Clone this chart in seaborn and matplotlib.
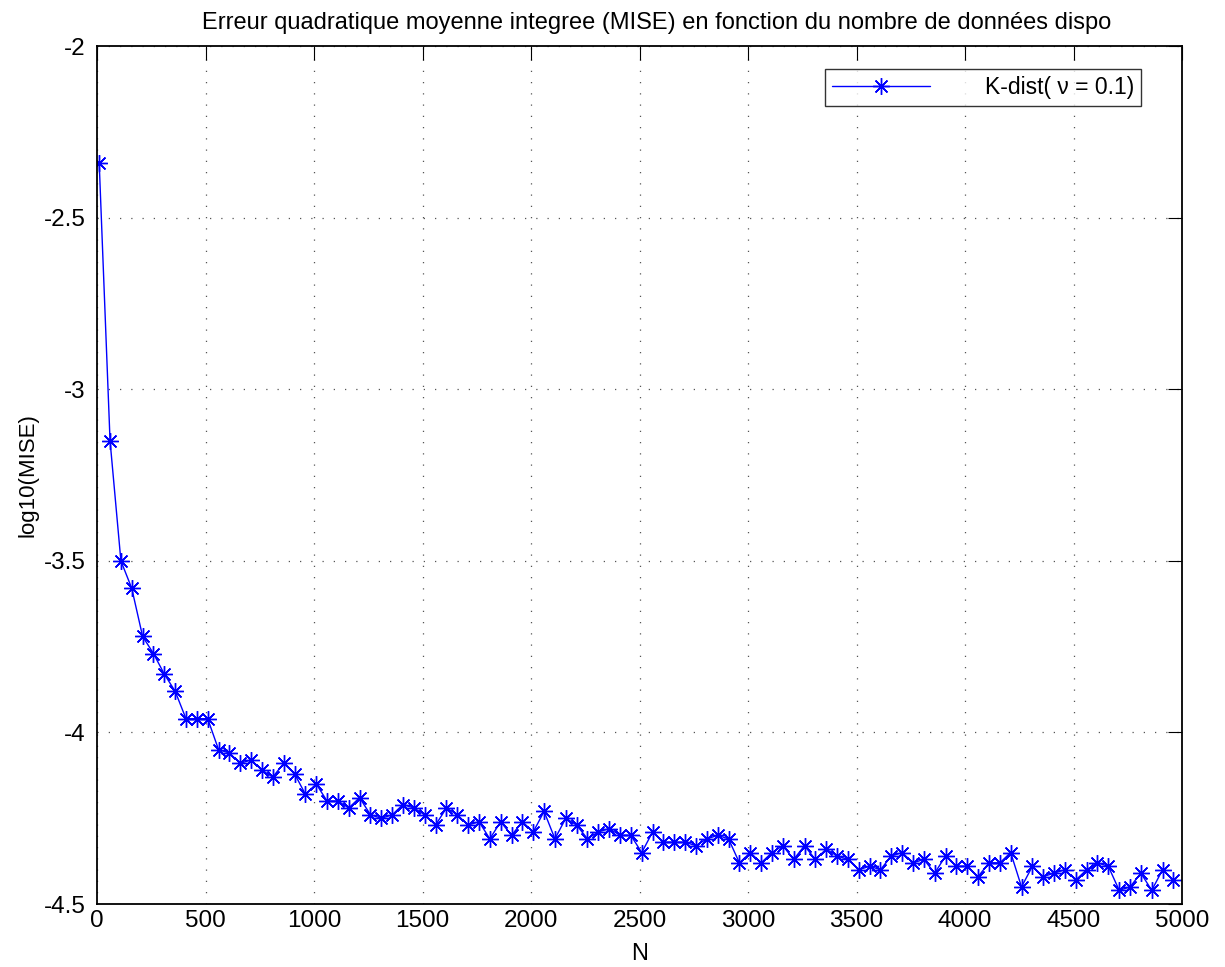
import matplotlib
matplotlib.use("Agg")
import matplotlib.pyplot as plt
from matplotlib.ticker import FormatStrFormatter
import numpy as np
import pandas as pd
import seaborn as sns

# Sample sizes and integrated squared error (log10 scale)
n_values = list(range(10, 5000, 50))
log_mise = [
    -2.34, -3.15, -3.50, -3.58, -3.72, -3.77, -3.83, -3.88, -3.96, -3.96,
    -3.96, -4.05, -4.06, -4.09, -4.08, -4.11, -4.13, -4.09, -4.12, -4.18,
    -4.15, -4.20, -4.20, -4.22, -4.19, -4.24, -4.25, -4.24, -4.21, -4.22,
    -4.24, -4.27, -4.22, -4.24, -4.27, -4.26, -4.31, -4.26, -4.30, -4.26,
    -4.29, -4.23, -4.31, -4.25, -4.27, -4.31, -4.29, -4.28, -4.30, -4.30,
    -4.35, -4.29, -4.32, -4.32, -4.32, -4.33, -4.31, -4.30, -4.31, -4.38,
    -4.35, -4.38, -4.35, -4.33, -4.37, -4.33, -4.37, -4.34, -4.36, -4.37,
    -4.40, -4.39, -4.40, -4.36, -4.35, -4.38, -4.37, -4.41, -4.36, -4.39,
    -4.39, -4.42, -4.38, -4.38, -4.35, -4.45, -4.39, -4.42, -4.41, -4.40,
    -4.43, -4.40, -4.38, -4.39, -4.46, -4.45, -4.41, -4.46, -4.40, -4.43,
]
series_label = "K-dist( \u03bd = 0.1)"
x_ticks = [0, 500, 1000, 1500, 2000, 2500, 3000, 3500, 4000, 4500, 5000]
y_ticks = [-2.0, -2.5, -3.0, -3.5, -4.0, -4.5]

df = pd.DataFrame({"N": n_values, "log10(MISE)": log_mise})

sns.set_theme(style="white")
plt.rcParams["font.family"] = ["Liberation Sans", "DejaVu Sans"]
plt.rcParams["text.color"] = "black"
plt.rcParams["axes.labelcolor"] = "black"

fig = plt.figure(figsize=(12.25, 9.67), dpi=100)
ax = fig.add_axes([0.0792, 0.0651, 0.8858, 0.8873])

sns.lineplot(
    data=df, x="N", y="log10(MISE)", ax=ax,
    color="#0000ff", linewidth=1.0,
    marker=(8, 2, 0), markersize=12, markeredgewidth=1.0,
    markeredgecolor="#0000ff", label=series_label,
)

ax.set_xlim(0, 5000)
ax.set_ylim(-4.5, -2.0)
ax.set_xticks(x_ticks)
ax.set_yticks(y_ticks)
ax.yaxis.set_major_formatter(FormatStrFormatter("%g"))

ax.grid(True, color="#555555", linestyle=(0, (1, 8)), linewidth=0.9)
for side in ["left", "right", "top", "bottom"]:
    ax.spines[side].set_visible(True)
    ax.spines[side].set_color("black")
    ax.spines[side].set_linewidth(1.3)

ax.tick_params(axis="both", direction="in", length=10, width=0.8,
               top=True, right=True, labelsize=17.5, colors="black")
ax.tick_params(axis="x", pad=4)
ax.tick_params(axis="y", pad=8)

ax.set_xlabel("N", fontsize=17, labelpad=8, color="black")
ax.set_ylabel("log10(MISE)", fontsize=16, labelpad=4, color="black")
ax.set_title("Erreur quadratique moyenne integree (MISE) en fonction du nombre de donn\u00e9es dispo",
             fontsize=17, pad=12, color="black", x=0.516)

leg = ax.legend(loc="upper right", bbox_to_anchor=(0.9625, 0.973),
                fontsize=16.5, frameon=True, fancybox=False,
                edgecolor="black", handlelength=4.3, borderaxespad=0.0,
                handletextpad=2.4, borderpad=0.3)
leg.get_frame().set_linewidth(1.0)
for t in leg.get_texts():
    t.set_color("black")

fig.savefig("out.png", dpi=100, facecolor="white")
